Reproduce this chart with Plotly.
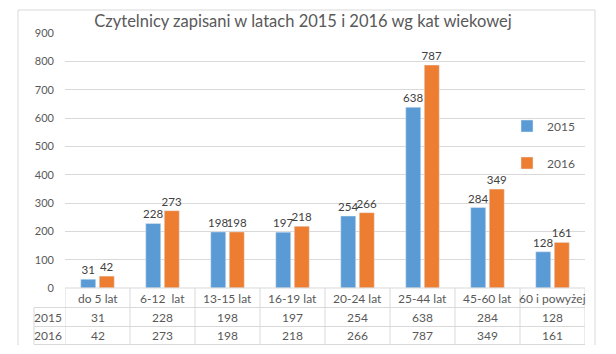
import plotly.graph_objects as go

categories = ["do 5 lat", "6-12\u00a0 lat", "13-15 lat", "16-19 lat", "20-24 lat", "25-44 lat", "45-60 lat", "60 i powyżej"]
series_names = ["2015", "2016"]
values_2015 = [31, 228, 198, 197, 254, 638, 284, 128]
values_2016 = [42, 273, 198, 218, 266, 787, 349, 161]
y_ticks = [0, 100, 200, 300, 400, 500, 600, 700, 800, 900]

BLUE = "#5B9BD5"
ORANGE = "#ED7D31"
TXT = "#595959"
GRID = "#D9D9D9"
FONT = "Lato"

W, H = 616, 354
L, R, T, B = 65, 31, 33, 66   # plot area: x 65..585, y 33..288
PH = H - T - B
PW = W - L - R
n = len(categories)


def py(Y):
    """pixel y -> paper y"""
    return (H - B - Y) / PH


def px(X):
    return (X - L) / PW


fig = go.Figure()
for name, vals, col, leg in [(series_names[0], values_2015, BLUE, "legend"),
                             (series_names[1], values_2016, ORANGE, "legend2")]:
    fig.add_trace(go.Bar(
        x=categories, y=vals, name=name, marker_color=col,
        text=[str(v) for v in vals], textposition="outside",
        textfont=dict(family=FONT, size=11.5, color="#404040"),
        constraintext="none",
        cliponaxis=False, legend=leg, showlegend=True,
    ))

shapes = []
annotations = []

# chart border (left, top, right)
bx0, bx1, by0, by1 = px(18), px(595), py(345), py(10)
for (x0, y0, x1, y1) in [(bx0, by0, bx0, by1), (bx0, by1, bx1, by1), (bx1, by1, bx1, by0)]:
    shapes.append(dict(type="line", xref="paper", yref="paper", x0=x0, y0=y0, x1=x1, y1=y1,
                       line=dict(color=GRID, width=1)))

# data table
row_lines = [288, 307.5, 326.5, 344.5]
tcol = "#D9D9D9"
for i, Y in enumerate(row_lines):
    x0 = px(65) if i == 0 else px(34)
    shapes.append(dict(type="line", xref="paper", yref="paper", x0=x0, x1=1, y0=py(Y), y1=py(Y),
                       line=dict(color=tcol, width=1)))
for k in range(n + 1):
    shapes.append(dict(type="line", xref="x", yref="paper", x0=k - 0.5, x1=k - 0.5,
                       y0=py(288), y1=py(344.5), line=dict(color=tcol, width=1)))
shapes.append(dict(type="line", xref="paper", yref="paper", x0=px(34), x1=px(34),
                   y0=py(307.5), y1=py(344.5), line=dict(color=tcol, width=1)))

row_centers = [298, 317, 335.5]
afont = dict(family=FONT, size=12, color=TXT)
for i, c in enumerate(categories):
    for r, txt in enumerate([c, str(values_2015[i]), str(values_2016[i])]):
        annotations.append(dict(x=i, y=py(row_centers[r]), xref="x", yref="paper", text=txt,
                                xanchor="center", yanchor="middle",
                                showarrow=False, font=afont))
for j, nm in enumerate(series_names):
    annotations.append(dict(x=px(62), y=py(row_centers[j + 1]), xref="paper", yref="paper", text=nm,
                            xanchor="right", yanchor="middle", borderpad=0, borderwidth=0,
                            showarrow=False, font=afont))

legfont = dict(family=FONT, size=12, color=TXT)
fig.update_layout(
    width=W, height=H,
    margin=dict(l=L, r=R, t=T, b=B, autoexpand=False),
    paper_bgcolor="white", plot_bgcolor="white",
    showlegend=True,
    title=dict(text="Czytelnicy zapisani w latach 2015 i 2016 wg kat wiekowej",
               x=303 / W, xref="container", xanchor="center",
               y=1 - 21 / H, yref="container", yanchor="middle",
               font=dict(family=FONT, size=16.5, color=TXT)),
    barmode="group", bargap=0.43, bargroupgap=0.19,
    xaxis=dict(type="category", range=[-0.5, n - 0.5], showticklabels=False, automargin=False,
               showgrid=False, showline=False, zeroline=False, fixedrange=True),
    yaxis=dict(range=[0, 900], tickvals=y_ticks, showgrid=True, gridcolor=GRID, gridwidth=1,
               zeroline=False, showline=False, ticks="", ticklabelstandoff=10, automargin=False,
               tickfont=dict(family=FONT, size=11, color=TXT)),
    legend=dict(x=px(507), y=py(126), xanchor="left", yanchor="middle",
                bgcolor="rgba(0,0,0,0)", font=legfont, itemwidth=30),
    legend2=dict(x=px(507), y=py(163), xanchor="left", yanchor="middle",
                 bgcolor="rgba(0,0,0,0)", font=legfont, itemwidth=30),
    shapes=shapes, annotations=annotations,
)

fig.write_html("out.html")
